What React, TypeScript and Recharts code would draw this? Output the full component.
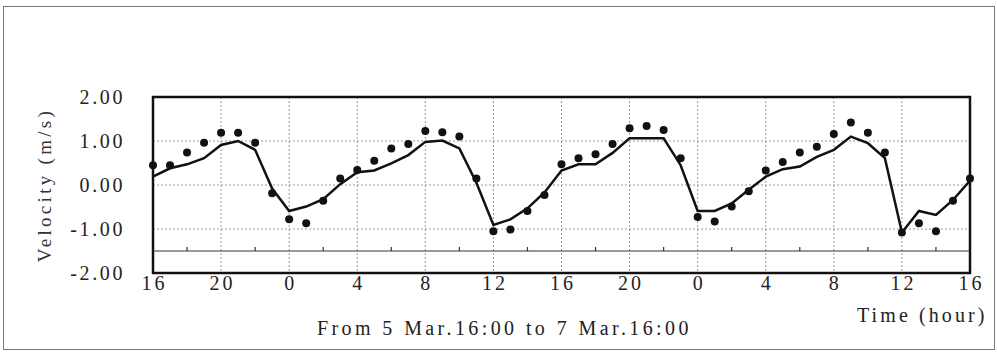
import {
  ComposedChart,
  Line,
  Scatter,
  XAxis,
  YAxis,
  CartesianGrid,
  ReferenceLine,
  ReferenceArea,
} from "recharts";

// hours since 5 Mar 16:00
const hours = [
  0, 1, 2, 3, 4, 5, 6, 7, 8, 9, 10, 11, 12, 13, 14, 15, 16, 17, 18, 19, 20, 21,
  22, 23, 24, 25, 26, 27, 28, 29, 30, 31, 32, 33, 34, 35, 36, 37, 38, 39, 40,
  41, 42, 43, 44, 45, 46, 47, 48,
];

// observed velocity (dots)
const observed = [
  0.45, 0.45, 0.74, 0.96, 1.19, 1.19, 0.96, -0.19, -0.78, -0.87, -0.36, 0.15,
  0.34, 0.55, 0.83, 0.93, 1.23, 1.2, 1.1, 0.15, -1.05, -1.01, -0.59, -0.23,
  0.47, 0.61, 0.7, 0.93, 1.29, 1.34, 1.25, 0.61, -0.73, -0.83, -0.49, -0.14,
  0.33, 0.52, 0.74, 0.87, 1.16, 1.42, 1.19, 0.74, -1.08, -0.87, -1.05, -0.36,
  0.15,
];

// computed velocity (line)
const computed = [
  0.19, 0.38, 0.47, 0.61, 0.91, 1.0, 0.8, -0.08, -0.59, -0.49, -0.32, 0.02,
  0.29, 0.33, 0.49, 0.68, 0.98, 1.01, 0.83, 0.05, -0.91, -0.78, -0.53, -0.17,
  0.33, 0.47, 0.47, 0.73, 1.06, 1.06, 1.06, 0.45, -0.59, -0.59, -0.42, -0.11,
  0.19, 0.36, 0.42, 0.64, 0.8, 1.1, 0.95, 0.61, -1.08, -0.59, -0.68, -0.34,
  0.1,
];

const xTicks = [0, 4, 8, 12, 16, 20, 24, 28, 32, 36, 40, 44, 48];
const xTickLabels = ["16", "20", "0", "4", "8", "12", "16", "20", "0", "4", "8", "12", "16"];
const yTicks = [-2, -1, 0, 1, 2];
const yTickLabels = ["-2.00", "-1.00", "0.00", "1.00", "2.00"];
const minorTicks = [2, 6, 10, 14, 18, 22, 26, 30, 34, 38, 42, 46];
const baseLevel = -1.5;

const data = hours.map((h, i) => ({
  hour: h,
  observed: observed[i],
  computed: computed[i],
}));

const font = "'Liberation Serif', serif";

export default function App() {
  return (
    <div style={{ position: "absolute", left: 0, top: 0, width: 997, height: 352, background: "#fff" }}>
      {/* outer frame */}
      <div
        style={{
          position: "absolute",
          left: 3,
          top: 6,
          width: 990,
          height: 342,
          border: "1.5px solid #777",
        }}
      />
      <ComposedChart
        width={997}
        height={352}
        data={data}
        margin={{ top: 97, right: 27, bottom: 49, left: 0 }}
        style={{ position: "absolute", left: 0, top: 0 }}
      >
        <CartesianGrid
          stroke="#999"
          strokeDasharray="2 2"
          horizontalValues={[-1, 0, 1]}
          verticalValues={[4, 8, 12, 16, 20, 24, 28, 32, 36, 40, 44]}
        />
        <XAxis
          dataKey="hour"
          type="number"
          domain={[0, 48]}
          ticks={xTicks}
          tickFormatter={(v: number) => xTickLabels[xTicks.indexOf(v)]}
          axisLine={false}
          tickLine={false}
          tickSize={0}
          tickMargin={3}
          height={30}
          tick={{ fill: "#222", fontSize: 20, fontFamily: font, letterSpacing: 3, dx: 1.5 }}
          interval={0}
        />
        <YAxis
          type="number"
          domain={[-2, 2]}
          ticks={yTicks}
          tickFormatter={(v: number) => yTickLabels[yTicks.indexOf(v)]}
          axisLine={false}
          tickLine={false}
          tickSize={0}
          tickMargin={28}
          width={153}
          tick={{ fill: "#222", fontSize: 20, fontFamily: font, letterSpacing: 2.6 }}
          interval={0}
        />
        <ReferenceLine y={baseLevel} stroke="#333" strokeWidth={1.2} />
        {minorTicks.map((t) => (
          <ReferenceLine
            key={t}
            segment={[
              { x: t, y: baseLevel },
              { x: t, y: baseLevel + 0.09 },
            ]}
            stroke="#333"
            strokeWidth={1.2}
          />
        ))}
        <ReferenceArea
          x1={0}
          x2={48}
          y1={-2}
          y2={2}
          fill="none"
          fillOpacity={0}
          stroke="#111"
          strokeWidth={2.5}
        />
        <Line
          dataKey="computed"
          stroke="#111"
          strokeWidth={2.5}
          dot={false}
          activeDot={false}
          isAnimationActive={false}
        />
        <Scatter
          dataKey="observed"
          fill="#111"
          shape={(p: any) => <circle cx={p.cx} cy={p.cy} r={4} fill="#111" />}
          isAnimationActive={false}
        />
      </ComposedChart>
      <div
        style={{
          position: "absolute",
          left: 45,
          top: 185,
          transform: "translate(-50%, -50%) rotate(-90deg)",
          fontFamily: font,
          fontSize: 19,
          letterSpacing: 3.3,
          color: "#333",
          whiteSpace: "nowrap",
        }}
      >
        Velocity (m/s)
      </div>
      <div
        style={{
          position: "absolute",
          left: 857,
          top: 304,
          fontFamily: font,
          fontSize: 20,
          letterSpacing: 3.1,
          color: "#222",
          whiteSpace: "nowrap",
        }}
      >
        Time (hour)
      </div>
      <div
        style={{
          position: "absolute",
          left: 317,
          top: 317,
          fontFamily: font,
          fontSize: 20,
          letterSpacing: 3.4,
          color: "#222",
          whiteSpace: "nowrap",
        }}
      >
        From 5 Mar.16:00 to 7 Mar.16:00
      </div>
    </div>
  );
}
